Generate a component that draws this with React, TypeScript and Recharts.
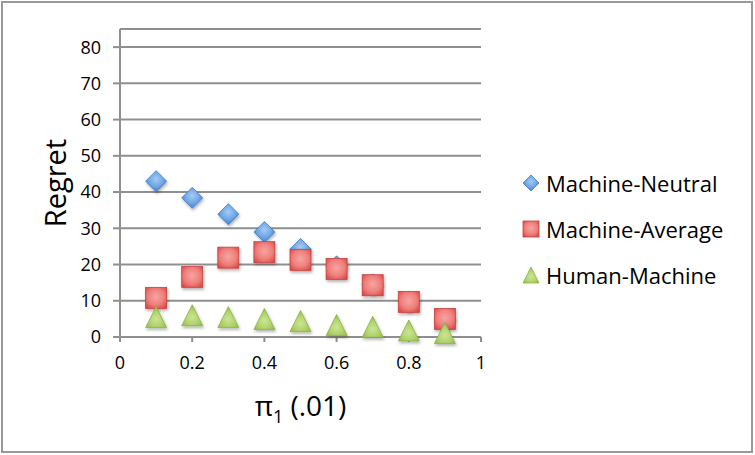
import { CartesianGrid, Label, Legend, Scatter, ScatterChart, XAxis, YAxis } from "recharts";

// x positions shared by all three series
const piValues = [0.1, 0.2, 0.3, 0.4, 0.5, 0.6, 0.7, 0.8, 0.9];

const machineNeutral = [43, 38.4, 33.9, 29, 24.3, 19.5, 14.5, 9.8, 5.0];
const machineAverage = [10.8, 16.6, 21.9, 23.4, 21.3, 18.8, 14.3, 9.7, 5.0];
const humanMachine = [5.5, 6.0, 5.5, 5.0, 4.4, 3.3, 2.8, 1.8, 1.1];

const xTicks = [0, 0.2, 0.4, 0.6, 0.8, 1];
const yTicks = [0, 10, 20, 30, 40, 50, 60, 70, 80];

const toPoints = (ys: number[]) => piValues.map((x, i) => ({ x, y: ys[i] }));

const FONT = '"Open Sans", sans-serif';
const AXIS_GRAY = "#8f8f8f";

// marker glyphs, drawn around (cx, cy) with half-size r
function diamond(cx: number, cy: number, r: number) {
  return (
    <polygon
      points={`${cx},${cy - r} ${cx + r},${cy} ${cx},${cy + r} ${cx - r},${cy}`}
      fill="url(#gradBlue)"
      stroke="#3f7cc4"
      strokeWidth={0.8}
    />
  );
}

function square(cx: number, cy: number, r: number) {
  return (
    <rect
      x={cx - r}
      y={cy - r}
      width={r * 2}
      height={r * 2}
      fill="url(#gradRed)"
      stroke="#c9403c"
      strokeWidth={0.8}
    />
  );
}

function triangle(cx: number, cy: number, r: number) {
  return (
    <polygon
      points={`${cx},${cy - r} ${cx + r},${cy + r} ${cx - r},${cy + r}`}
      fill="url(#gradGreen)"
      stroke="#8ab447"
      strokeWidth={0.8}
    />
  );
}

const series = [
  { name: "Machine-Neutral", data: toPoints(machineNeutral), glyph: diamond },
  { name: "Machine-Average", data: toPoints(machineAverage), glyph: square },
  { name: "Human-Machine", data: toPoints(humanMachine), glyph: triangle },
];

function renderLegend() {
  return (
    <div style={{ fontFamily: FONT, fontSize: 22, color: "#000" }}>
      {series.map((s) => (
        <div key={s.name} style={{ display: "flex", alignItems: "center", height: 46 }}>
          <svg width={18} height={18} style={{ overflow: "visible" }}>
            {s.glyph(9, 9, 8)}
          </svg>
          <span style={{ marginLeft: 6, whiteSpace: "nowrap" }}>{s.name}</span>
        </div>
      ))}
    </div>
  );
}

export default function App() {
  return (
    <div
      style={{
        position: "absolute",
        left: 0,
        top: 0,
        width: 755,
        height: 455,
        background: "#fff",
        fontFamily: FONT,
      }}
    >
      <div
        style={{
          position: "absolute",
          left: 1,
          top: 1,
          width: 752,
          height: 452,
          border: "2px solid #999",
          boxSizing: "border-box",
        }}
      />
      <ScatterChart width={755} height={455} margin={{ top: 29, right: 274, bottom: 0, left: 0 }}>
        <defs>
          <radialGradient id="gradBlue" cx="50%" cy="40%" r="65%">
            <stop offset="0%" stopColor="#a4cbf3" />
            <stop offset="55%" stopColor="#6ea5e4" />
            <stop offset="100%" stopColor="#3b79c7" />
          </radialGradient>
          <radialGradient id="gradRed" cx="50%" cy="45%" r="70%">
            <stop offset="0%" stopColor="#f6a5a2" />
            <stop offset="55%" stopColor="#ee7f7b" />
            <stop offset="100%" stopColor="#d8423e" />
          </radialGradient>
          <radialGradient id="gradGreen" cx="50%" cy="60%" r="65%">
            <stop offset="0%" stopColor="#cde594" />
            <stop offset="55%" stopColor="#afd26b" />
            <stop offset="100%" stopColor="#8cb746" />
          </radialGradient>
          <filter id="markerShadow" x="-40%" y="-40%" width="180%" height="180%">
            <feDropShadow dx={1} dy={2} stdDeviation={1.5} floodColor="#000" floodOpacity={0.3} />
          </filter>
        </defs>
        <CartesianGrid vertical={false} stroke={AXIS_GRAY} strokeWidth={2} />
        <XAxis
          type="number"
          dataKey="x"
          domain={[0, 1]}
          ticks={xTicks}
          interval={0}
          height={118}
          tickSize={5}
          tickMargin={14}
          axisLine={{ stroke: AXIS_GRAY, strokeWidth: 2 }}
          tickLine={{ stroke: AXIS_GRAY, strokeWidth: 2 }}
          tick={{ fill: "#000", fontSize: 18, fontFamily: FONT }}
        >
          <Label
            content={({ viewBox }: any) => (
              <text
                x={viewBox.x + viewBox.width / 2}
                y={416}
                textAnchor="middle"
                fontSize={28}
                fontFamily={FONT}
                fill="#000"
              >
                π
                <tspan fontSize={18} dy={7}>1</tspan>
                <tspan dy={-7}> (.01)</tspan>
              </text>
            )}
          />
        </XAxis>
        <YAxis
          type="number"
          dataKey="y"
          domain={[0, 85]}
          ticks={yTicks}
          interval={0}
          width={120}
          tickSize={7}
          tickMargin={12}
          axisLine={{ stroke: AXIS_GRAY, strokeWidth: 2 }}
          tickLine={{ stroke: AXIS_GRAY, strokeWidth: 2 }}
          tick={{ fill: "#000", fontSize: 18, fontFamily: FONT }}
        >
          <Label
            content={({ viewBox }: any) => {
              const cy = viewBox.y + viewBox.height / 2;
              return (
                <text
                  x={66}
                  y={cy}
                  transform={`rotate(-90 66 ${cy})`}
                  textAnchor="middle"
                  fontSize={29}
                  fontFamily={FONT}
                  fill="#000"
                >
                  Regret
                </text>
              );
            }}
          />
        </YAxis>
        <Legend
          layout="horizontal"
          verticalAlign="middle"
          align="center"
          wrapperStyle={{ left: 522, top: 160, width: 230 }}
          content={renderLegend}
        />
        {series.map((s) => (
          <Scatter
            key={s.name}
            name={s.name}
            data={s.data}
            isAnimationActive={false}
            shape={(p: any) => <g filter="url(#markerShadow)">{s.glyph(p.cx, p.cy, 10.5)}</g>}
          />
        ))}
      </ScatterChart>
    </div>
  );
}
